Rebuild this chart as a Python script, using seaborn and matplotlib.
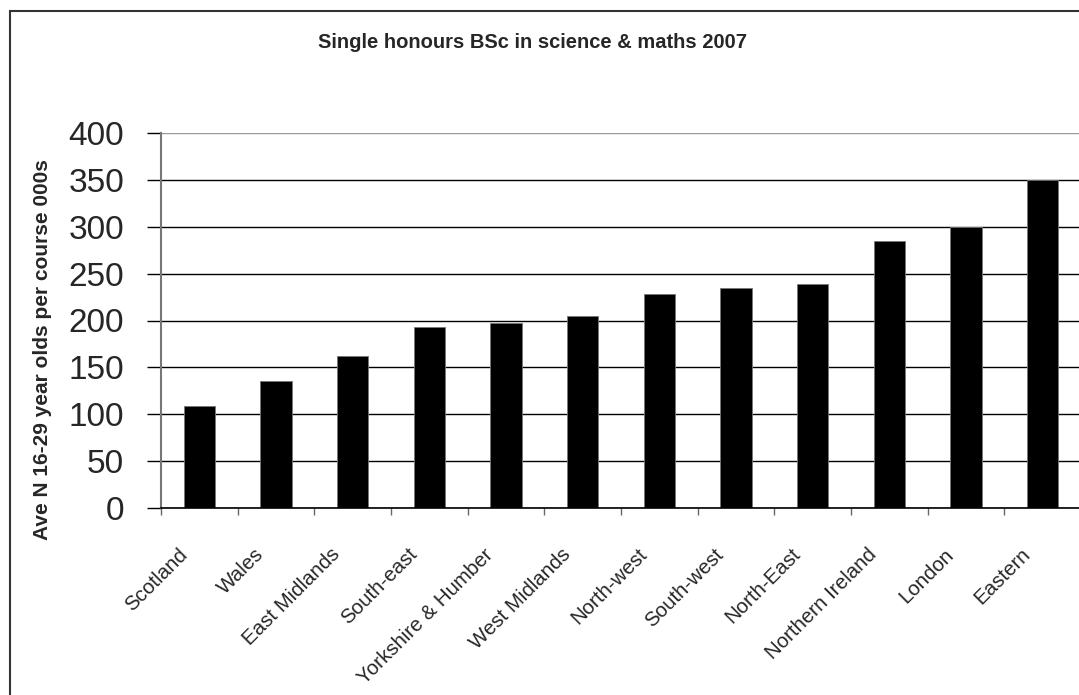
import numpy as np
import matplotlib
matplotlib.use("Agg")
import matplotlib.pyplot as plt
from matplotlib.patches import Rectangle
from matplotlib.transforms import ScaledTranslation
import seaborn as sns

regions = ["Scotland", "Wales", "East Midlands", "South-east", "Yorkshire & Humber",
           "West Midlands", "North-west", "South-west", "North-East", "Northern Ireland",
           "London", "Eastern"]
values = [109, 135, 162, 193, 197, 205, 228, 235, 239, 285, 300, 350]
yticks = [0, 50, 100, 150, 200, 250, 300, 350, 400]
title = "Single honours BSc in science & maths 2007"
ylabel = "Ave N 16-29 year olds per course 000s"

sns.set_theme(style="white")
plt.rcParams["font.family"] = ["Liberation Sans", "DejaVu Sans"]

W, H = 1079, 695
fig = plt.figure(figsize=(W / 100, H / 100), dpi=100)
fig.patch.set_facecolor("white")

left, right, top, bottom = 161, 1081, 133, 508
ax = fig.add_axes([left / W, 1 - bottom / H, (right - left) / W, (bottom - top) / H])

sns.barplot(x=regions, y=values, color="black", saturation=1, width=0.41,
            edgecolor="#777777", linewidth=0.6, ax=ax)

ax.set_ylim(0, 400)
ax.set_xlim(-0.5, len(regions) - 0.5)
ax.set_yticks(yticks)
ax.set_yticklabels([str(v) for v in yticks], fontsize=24)
ax.set_xticks(np.arange(-0.5, len(regions), 1), minor=True)
ax.set_xlabel("")

ax.yaxis.grid(True, color="black", linewidth=1.0)
ax.set_axisbelow(True)
ax.get_ygridlines()[-1].set_color("#999999")

for side in ["top", "right"]:
    ax.spines[side].set_visible(False)
ax.spines["left"].set_color("#777777")
ax.spines["left"].set_linewidth(1.5)
ax.spines["bottom"].set_color("black")
ax.spines["bottom"].set_linewidth(1.2)

ax.tick_params(axis="y", which="major", left=True, length=10, width=1.0, color="black",
               pad=16.5, direction="out")
ax.tick_params(axis="x", which="major", bottom=True, length=0, pad=26.5, labelsize=14.8)
ax.tick_params(axis="x", which="minor", bottom=True, length=5, width=1.0,
               color="#666666", direction="out")

ax.set_xticklabels(regions, fontsize=14.8)
offset = ScaledTranslation(-0.22, 0, fig.dpi_scale_trans)
for lbl in ax.get_xticklabels():
    lbl.set_rotation(45)
    lbl.set_ha("right")
    lbl.set_va("top")
    lbl.set_rotation_mode("anchor")
    lbl.set_transform(lbl.get_transform() + offset)

ax.set_ylabel(ylabel, fontsize=15, fontweight="bold", va="center")
ax.yaxis.set_label_coords((43 - left) / (right - left), (bottom - 350) / (bottom - top))

fig.text(532 / W, 1 - 42 / H, title, ha="center", va="center",
         fontsize=14.5, fontweight="bold")

fig.patches.append(Rectangle((10 / W, -0.1), 1.2, 1.1 - 11 / H,
                             transform=fig.transFigure, fill=False,
                             edgecolor="#333333", linewidth=1.5, clip_on=False))

fig.savefig("out.png", dpi=100)
